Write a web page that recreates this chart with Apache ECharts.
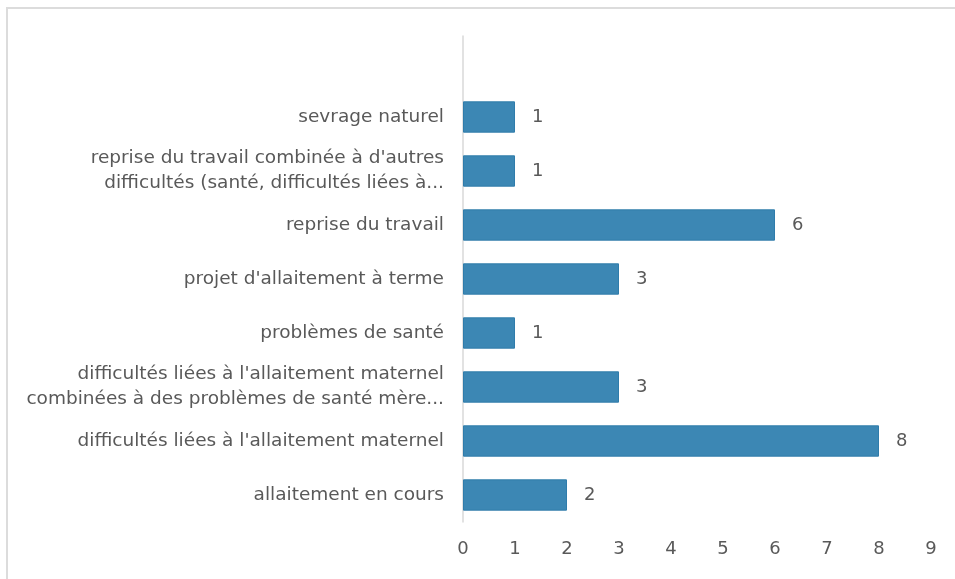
<!DOCTYPE html>
<html>
<head>
<meta charset="utf-8">
<script src="https://cdn.jsdelivr.net/npm/echarts@6/dist/echarts.min.js"></script>
<style>
  html, body { margin: 0; padding: 0; background: #fff; }
  #chart { width: 955px; height: 579px; }
</style>
</head>
<body>
<div id="chart"></div>
<script>
// categories, bottom to top (the top slot is empty in the original)
const categories = [
  "allaitement en cours",
  "difficultés liées à l'allaitement maternel",
  "difficultés liées à l'allaitement maternel\ncombinées à des problèmes de santé mère...",
  "problèmes de santé",
  "projet d'allaitement à terme",
  "reprise du travail",
  "reprise du travail combinée à d'autres\ndifficultés (santé, difficultés liées à...",
  "sevrage naturel",
  ""
];
const values = [2, 8, 3, 1, 3, 6, 1, 1, null];
const xTicks = [0, 9, 1]; // min, max, interval

const textColor = "#595959";
const font = "DejaVu Sans";

const myChart = echarts.init(document.getElementById("chart"));
const option = {
  animation: false,
  textStyle: { fontFamily: font, color: textColor },
  graphic: [
    {
      type: "rect",
      shape: { x: 7, y: 8, width: 970, height: 600 },
      style: { fill: "none", stroke: "#dcdcdc", lineWidth: 2 },
      silent: true
    }
  ],
  grid: { left: 463, right: 24, top: 36, bottom: 57, containLabel: false },
  xAxis: {
    type: "value",
    min: xTicks[0],
    max: xTicks[1],
    interval: xTicks[2],
    axisLine: { show: false },
    axisTick: { show: false },
    splitLine: { show: false },
    axisLabel: { color: textColor, fontSize: 18, fontFamily: font, margin: 18 }
  },
  yAxis: {
    type: "category",
    data: categories,
    axisLine: { show: true, lineStyle: { color: "#d9d9d9", width: 1.5 } },
    axisTick: { show: false },
    axisLabel: {
      color: textColor,
      fontSize: 18.5,
      fontFamily: font,
      margin: 19,
      lineHeight: 25,
      align: "right"
    }
  },
  series: [
    {
      type: "bar",
      data: values,
      barWidth: "58%",
      itemStyle: { color: "#3c87b4", borderColor: "#2f7cab", borderWidth: 1 },
      label: {
        show: true,
        position: "right",
        distance: 17,
        color: textColor,
        fontSize: 18,
        fontFamily: font
      }
    }
  ]
};
myChart.setOption(option);
</script>
</body>
</html>
